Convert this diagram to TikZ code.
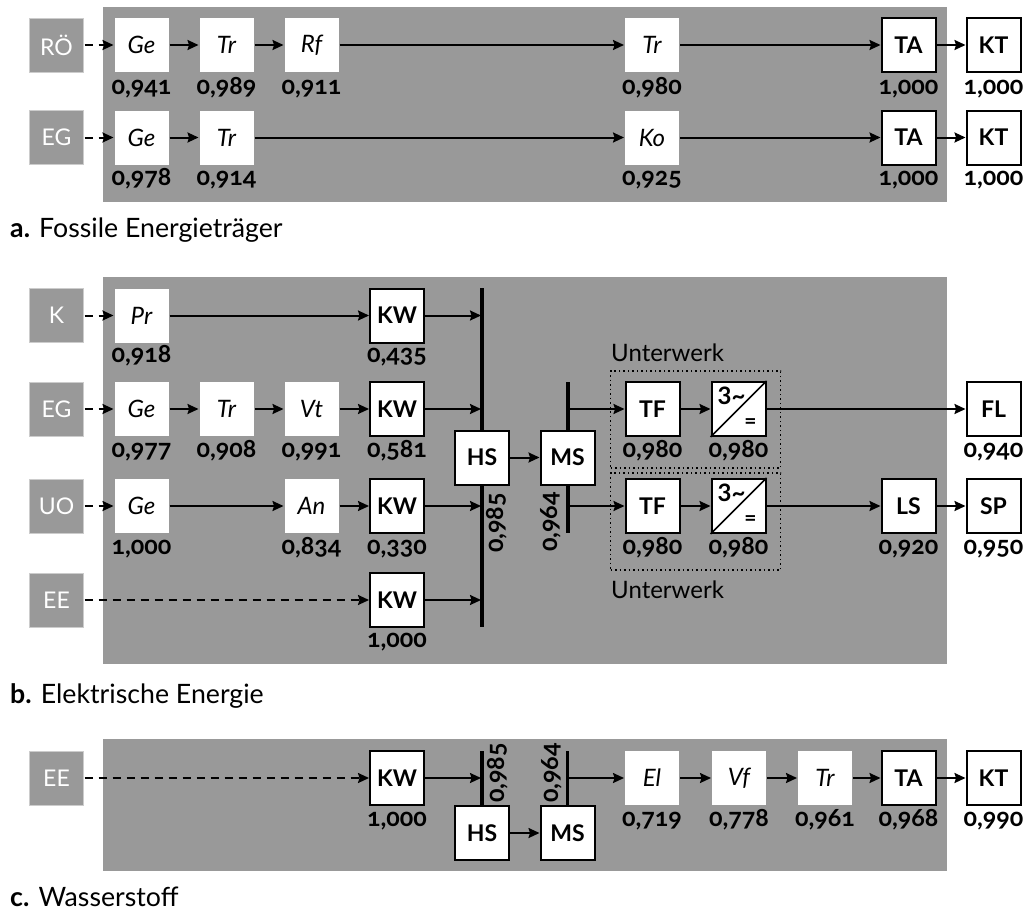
\documentclass[tikz,border=0pt]{standalone}
\usepackage{fontspec}
\setmainfont{Lato}
\newfontfamily\valfont[Numbers=OldStyle]{Lato}
\usetikzlibrary{arrows.meta,calc}
\definecolor{panel}{HTML}{999999}
\tikzset{
  panelbg/.style={fill=panel,draw=none},
  base/.style={minimum width=54pt,minimum height=54pt,inner sep=0pt,outer sep=1pt,font=\fontsize{23}{25}\selectfont},
  src/.style={base,fill=panel,draw=white!50!panel,line width=.5pt,text=white},
  proc/.style={base,fill=white,font=\fontsize{24}{26}\selectfont\itshape},
  kbox/.style={base,fill=white,draw=black,line width=2pt,font=\fontsize{23}{25}\selectfont\bfseries},
  conv/.style={base,fill=white,draw=black,line width=2pt},
  val/.style={inner sep=0pt,anchor=base,yshift=-7.5pt,font=\valfont\fontsize{25}{27}\selectfont\bfseries},
  vallab/.style={inner sep=0pt,font=\valfont\fontsize{25}{27}\selectfont\bfseries,rotate=90},
  captxt/.style={anchor=base west,inner sep=0pt,font=\fontsize{26.7}{28}\selectfont},
  uw/.style={anchor=base west,inner sep=0pt,font=\fontsize{24}{26}\selectfont},
  arr/.style={line width=2pt,-{Stealth[length=11pt,width=10pt,inset=1.5pt]}},
  darr/.style={arr,dash pattern=on 8pt off 6pt},
  bus/.style={line width=4pt},
  busc/.style={line width=3.5pt},
  dotbox/.style={draw=black,line width=1.5pt,dash pattern=on 1.5pt off 3pt},
}
\newcommand{\Conv}[3]{%
  \node[conv] (#1) at (#2,#3) {};
  \draw[line width=1.5pt] (#1.south west) -- (#1.north east);
  \node[inner sep=0pt,font=\fontsize{24}{26}\selectfont\bfseries] (#1a) at ($(#1.center)+(-7,-13)$) {3\char"7E};
  \node[inner sep=0pt,font=\fontsize{21}{23}\selectfont\bfseries] (#1b) at ($(#1.center)+(12,15)$) {=};
}
\begin{document}
\begin{tikzpicture}[x=1pt,y=-1pt]
\useasboundingbox (0,0) rectangle (1027,910);
% panels
\fill[panelbg] (103,7) rectangle (947,202);
\fill[panelbg] (103,277) rectangle (947,664);
\fill[panelbg] (103,739) rectangle (947,871);
% --- a
\node[src] (aR) at (56.5,45) {RÖ};
\node[proc] (a1) at (141.5,45) {Ge};
\node[proc] (a2) at (226.5,45) {Tr};
\node[proc] (a3) at (311.5,45) {Rf};
\node[proc] (a4) at (652,45) {Tr};
\node[kbox] (a5) at (908.5,45) {TA};
\node[kbox] (a6) at (993.5,45) {KT};
\draw[darr] (aR) -- (a1);
\draw[arr] (a1) -- (a2);
\draw[arr] (a2) -- (a3);
\draw[arr] (a3) -- (a4);
\draw[arr] (a4) -- (a5);
\draw[arr] (a5) -- (a6);
\node[val] (av1) at (141.5,87) {0,941};
\node[val] (av2) at (226.5,87) {0,989};
\node[val] (av3) at (311.5,87) {0,911};
\node[val] (av4) at (652,87) {0,980};
\node[val] (av5) at (908.5,87) {1,000};
\node[val] (av6) at (993.5,87) {1,000};
\node[src] (aE) at (56.5,137.5) {EG};
\node[proc] (b1) at (141.5,137.5) {Ge};
\node[proc] (b2) at (226.5,137.5) {Tr};
\node[proc] (b4) at (652,137.5) {Ko};
\node[kbox] (b5) at (908.5,137.5) {TA};
\node[kbox] (b6) at (993.5,137.5) {KT};
\draw[darr] (aE) -- (b1);
\draw[arr] (b1) -- (b2);
\draw[arr] (b2) -- (b4);
\draw[arr] (b4) -- (b5);
\draw[arr] (b5) -- (b6);
\node[val] (bv1) at (141.5,178) {0,978};
\node[val] (bv2) at (226.5,178) {0,914};
\node[val] (bv4) at (652,178) {0,925};
\node[val] (bv5) at (908.5,178) {1,000};
\node[val] (bv6) at (993.5,178) {1,000};
\node[captxt] (capa) at (10,237) {\textbf{a.} Fossile Energieträger};
% --- b
\coordinate (hstop) at (482,288);
\coordinate (hsbot) at (482,627);
\coordinate (mstop) at (567.5,382);
\coordinate (msbot) at (567.5,533);
\draw[bus] (hstop) -- (hsbot);
\draw[bus] (mstop) -- (msbot);
\coordinate (hs1) at (481,315.5);
\coordinate (hs2) at (481,409);
\coordinate (hs3) at (481,506);
\coordinate (hs4) at (481,600);
\coordinate (ms1) at (567,409);
\coordinate (ms2) at (567,506);
\node[dotbox,minimum width=170pt,minimum height=97pt,inner sep=0pt] (uw1) at (695.5,419.5) {};
\node[dotbox,minimum width=170pt,minimum height=97pt,inner sep=0pt] (uw2) at (695.5,521.5) {};
\node[uw] (uwl1) at (611,361) {Unterwerk};
\node[uw] (uwl2) at (611,598) {Unterwerk};
\node[src] (cK) at (56.5,315.5) {K};
\node[proc] (c1) at (141.5,315.5) {Pr};
\node[kbox] (c2) at (397,315.5) {KW};
\draw[darr] (cK) -- (c1);
\draw[arr] (c1) -- (c2);
\draw[arr] (c2) -- (hs1);
\node[val] (cv1) at (141.5,355) {0,918};
\node[val] (cv2) at (397,355) {0,435};
\node[src] (dE) at (56.5,409) {EG};
\node[proc] (d1) at (141.5,409) {Ge};
\node[proc] (d2) at (226.5,409) {Tr};
\node[proc] (d3) at (311.5,409) {Vt};
\node[kbox] (d4) at (397,409) {KW};
\draw[darr] (dE) -- (d1);
\draw[arr] (d1) -- (d2);
\draw[arr] (d2) -- (d3);
\draw[arr] (d3) -- (d4);
\draw[arr] (d4) -- (hs2);
\node[val] (dv1) at (141.5,450) {0,977};
\node[val] (dv2) at (226.5,450) {0,908};
\node[val] (dv3) at (311.5,450) {0,991};
\node[val] (dv4) at (397,450) {0,581};
\node[src] (eU) at (56.5,506) {UO};
\node[proc] (e1) at (141.5,506) {Ge};
\node[proc] (e3) at (311.5,506) {An};
\node[kbox] (e4) at (397,506) {KW};
\draw[darr] (eU) -- (e1);
\draw[arr] (e1) -- (e3);
\draw[arr] (e3) -- (e4);
\draw[arr] (e4) -- (hs3);
\node[val] (ev1) at (141.5,547) {1,000};
\node[val] (ev3) at (311.5,547) {0,834};
\node[val] (ev4) at (397,547) {0,330};
\node[src] (fE) at (56.5,600) {EE};
\node[kbox] (f4) at (397,600) {KW};
\draw[darr] (fE) -- (f4);
\draw[arr] (f4) -- (hs4);
\node[val] (fv4) at (397,640) {1,000};
\node[kbox] (hs) at (482,457.5) {HS};
\node[kbox] (ms) at (567.5,457.5) {MS};
\draw[arr] (hs) -- (ms);
\node[vallab] (hsv) at (497,523) {0,985};
\node[vallab] (msv) at (551,522) {0,964};
\node[kbox] (t1) at (652.5,409) {TF};
\Conv{k1}{738.5}{409}
\node[kbox] (fl) at (993.5,409) {FL};
\draw[arr] (ms1) -- (t1);
\draw[arr] (t1) -- (k1);
\draw[arr] (k1) -- (fl);
\node[val] (tv1) at (652.5,450) {0,980};
\node[val] (kv1) at (738.5,450) {0,980};
\node[val] (flv) at (993.5,450) {0,940};
\node[kbox] (t2) at (652.5,506) {TF};
\Conv{k2}{738.5}{506}
\node[kbox] (ls) at (908.5,506) {LS};
\node[kbox] (sp) at (993.5,506) {SP};
\draw[arr] (ms2) -- (t2);
\draw[arr] (t2) -- (k2);
\draw[arr] (k2) -- (ls);
\draw[arr] (ls) -- (sp);
\node[val] (tv2) at (652.5,547) {0,980};
\node[val] (kv2) at (738.5,547) {0,980};
\node[val] (lsv) at (908.5,547) {0,920};
\node[val] (spv) at (993.5,547) {0,950};
\node[captxt] (capb) at (10,703) {\textbf{b.} Elektrische Energie};
% --- c
\coordinate (h2top) at (482,751);
\coordinate (h2bot) at (482,806);
\coordinate (m2top) at (567.5,751);
\coordinate (m2bot) at (567.5,806);
\draw[busc] (h2top) -- (h2bot);
\draw[busc] (m2top) -- (m2bot);
\coordinate (hc) at (481,778);
\coordinate (mc) at (567,778);
\node[src] (gE) at (56.5,778) {EE};
\node[kbox] (g4) at (397,778) {KW};
\draw[darr] (gE) -- (g4);
\draw[arr] (g4) -- (hc);
\node[val] (gv4) at (397,819) {1,000};
\node[kbox] (hs2b) at (482,833) {HS};
\node[kbox] (ms2b) at (567.5,833) {MS};
\draw[arr] (hs2b) -- (ms2b);
\node[vallab] (hsv2) at (498,773) {0,985};
\node[vallab] (msv2) at (552,773) {0,964};
\node[proc] (g5) at (652,778) {El};
\node[proc] (g6) at (739,778) {Vf};
\node[proc] (g7) at (825,778) {Tr};
\node[kbox] (g8) at (908.5,778) {TA};
\node[kbox] (g9) at (993.5,778) {KT};
\draw[arr] (mc) -- (g5);
\draw[arr] (g5) -- (g6);
\draw[arr] (g6) -- (g7);
\draw[arr] (g7) -- (g8);
\draw[arr] (g8) -- (g9);
\node[val] (gv5) at (652,819) {0,719};
\node[val] (gv6) at (739,819) {0,778};
\node[val] (gv7) at (825,819) {0,961};
\node[val] (gv8) at (908.5,819) {0,968};
\node[val] (gv9) at (993.5,819) {0,990};
\node[captxt] (capc) at (10,906) {\textbf{c.} Wasserstoff};
\end{tikzpicture}
\end{document}
